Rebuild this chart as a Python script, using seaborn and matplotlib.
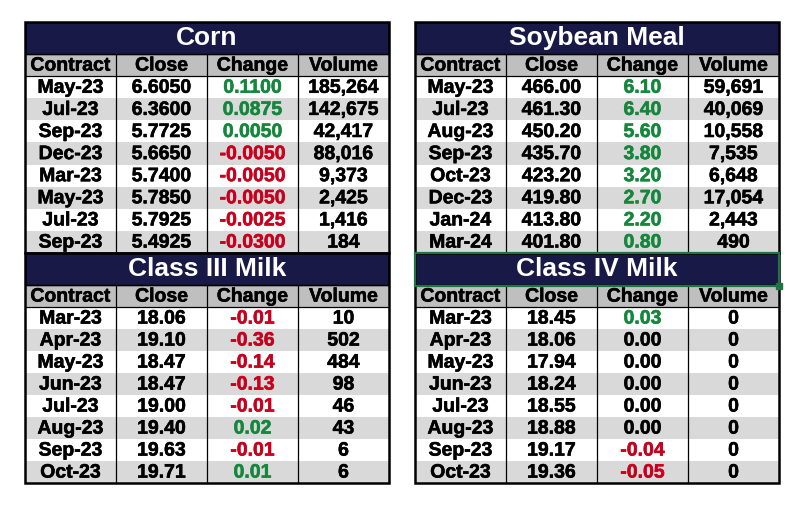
import numpy as np
import matplotlib.pyplot as plt
import matplotlib.patheffects as pe
from matplotlib.colors import ListedColormap
from matplotlib.patches import Rectangle
import seaborn as sns

# ---- data ----
columns = ["Contract", "Close", "Change", "Volume"]

corn_contracts = ["May-23", "Jul-23", "Sep-23", "Dec-23", "Mar-23", "May-23", "Jul-23", "Sep-23"]
corn_close = [6.6050, 6.3600, 5.7725, 5.6650, 5.7400, 5.7850, 5.7925, 5.4925]
corn_change = [0.1100, 0.0875, 0.0050, -0.0050, -0.0050, -0.0050, -0.0025, -0.0300]
corn_volume = [185264, 142675, 42417, 88016, 9373, 2425, 1416, 184]

soy_contracts = ["May-23", "Jul-23", "Aug-23", "Sep-23", "Oct-23", "Dec-23", "Jan-24", "Mar-24"]
soy_close = [466.00, 461.30, 450.20, 435.70, 423.20, 419.80, 413.80, 401.80]
soy_change = [6.10, 6.40, 5.60, 3.80, 3.20, 2.70, 2.20, 0.80]
soy_volume = [59691, 40069, 10558, 7535, 6648, 17054, 2443, 490]

milk3_contracts = ["Mar-23", "Apr-23", "May-23", "Jun-23", "Jul-23", "Aug-23", "Sep-23", "Oct-23"]
milk3_close = [18.06, 19.10, 18.47, 18.47, 19.00, 19.40, 19.63, 19.71]
milk3_change = [-0.01, -0.36, -0.14, -0.13, -0.01, 0.02, -0.01, 0.01]
milk3_volume = [10, 502, 484, 98, 46, 43, 6, 6]

milk4_contracts = ["Mar-23", "Apr-23", "May-23", "Jun-23", "Jul-23", "Aug-23", "Sep-23", "Oct-23"]
milk4_close = [18.45, 18.06, 17.94, 18.24, 18.55, 18.88, 19.17, 19.36]
milk4_change = [0.03, 0.00, 0.00, 0.00, 0.00, 0.00, -0.04, -0.05]
milk4_volume = [0, 0, 0, 0, 0, 0, 0, 0]

NAVY = "#191947"
HEADER = "#bfbfbf"
ALT = "#d9d9d9"
GREEN = "#14873c"
RED = "#c8001e"
XLGREEN = "#217346"

sns.set_style("white")
plt.rcParams["font.family"] = ["Liberation Sans", "DejaVu Sans"]
plt.rcParams["font.weight"] = "bold"

W, H = 805, 507
fig = plt.figure(figsize=(W / 100, H / 100), dpi=100)


def put(ax, x, y, s, size, color="black"):
    ax.text(x, y, s, ha="center", va="center", fontsize=size, fontweight="bold", color=color,
            path_effects=[pe.withStroke(linewidth=0.4, foreground=color)])


def draw_table(box, title, contracts, close, change, volume, decimals, selected=False):
    # box = (left, top, right, title_bottom, bottom) in pixels
    x0, y0, x1, yt, y1 = box
    ax = fig.add_axes([x0 / W, 1 - y1 / H, (x1 - x0) / W, (y1 - y0) / H])

    n = len(contracts)
    shade = np.zeros((n + 1, 4))
    shade[0, :] = 2
    for i in range(n):
        shade[i + 1, :] = i % 2
    sns.heatmap(shade, cmap=ListedColormap(["white", ALT, HEADER]), vmin=0, vmax=2,
                cbar=False, linewidths=0, xticklabels=False, yticklabels=False, ax=ax)

    row_px = (y1 - yt) / (n + 1)
    t = (yt - y0) / row_px
    ax.set_xlim(0, 4)
    ax.set_ylim(n + 1, -t)

    # title bar
    ax.add_patch(Rectangle((0, -t), 4, t, facecolor=NAVY, edgecolor="black", lw=1.0))
    ax.text(2, -t / 2, title, ha="center", va="center", color="white",
            fontsize=19, fontweight="bold")

    # grid lines
    ax.vlines([1, 2, 3], 0, n + 1, color="black", lw=0.9)
    ax.hlines([0, 1], 0, 4, color="black", lw=0.9)
    ax.add_patch(Rectangle((0, -t), 4, n + 1 + t, fill=False, edgecolor="black",
                           lw=1.8, clip_on=False))

    for j, c in enumerate(columns):
        put(ax, j + 0.5, 0.55, c, 14)

    for i in range(n):
        y = i + 1.55
        ch = change[i]
        col = GREEN if ch > 0 else (RED if ch < 0 else "black")
        put(ax, 0.5, y, contracts[i], 14)
        put(ax, 1.5, y, f"{close[i]:.{decimals}f}", 14)
        put(ax, 2.5, y, f"{ch:.{decimals}f}", 14, col)
        put(ax, 3.5, y, f"{volume[i]:,}", 14)

    if selected:
        # Excel selection box around the title cell
        ax.add_patch(Rectangle((0, -t), 4, t + 0.05, fill=False, edgecolor=XLGREEN,
                               lw=1.6, clip_on=False, zorder=5))
        ax.plot([4], [0.05], marker="s", markersize=4, color=XLGREEN,
                clip_on=False, zorder=6)
    return ax


draw_table((25, 22, 389, 54, 253), "Corn", corn_contracts, corn_close, corn_change, corn_volume, 4)
draw_table((25, 253, 389, 285, 483), "Class III Milk", milk3_contracts, milk3_close,
           milk3_change, milk3_volume, 2)
draw_table((415, 22, 779, 54, 253), "Soybean Meal", soy_contracts, soy_close, soy_change,
           soy_volume, 2)
draw_table((415, 253, 779, 285, 483), "Class IV Milk", milk4_contracts, milk4_close,
           milk4_change, milk4_volume, 2, selected=True)

fig.savefig("out.png", dpi=100)
